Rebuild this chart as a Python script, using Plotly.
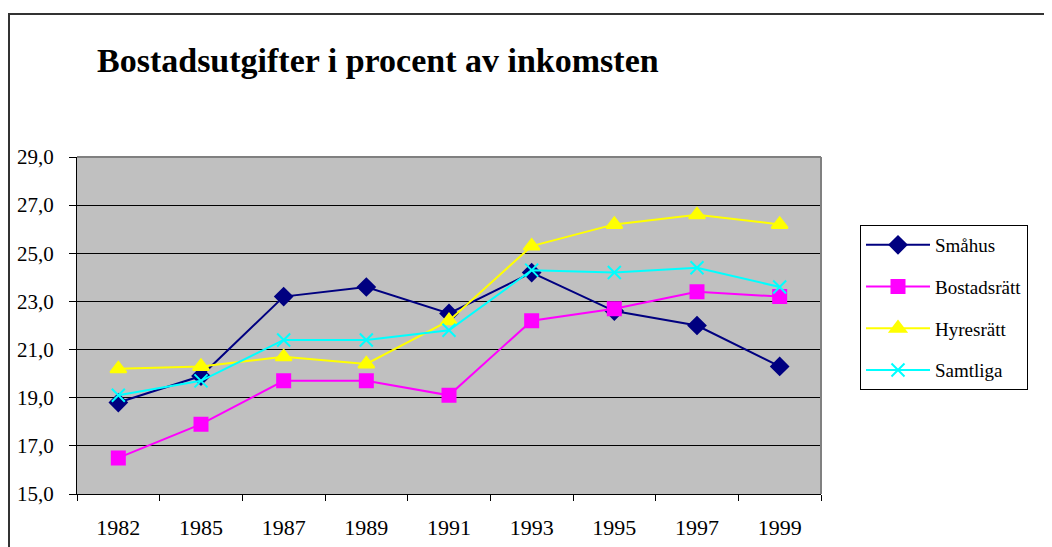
import plotly.graph_objects as go

years = ["1982", "1985", "1987", "1989", "1991", "1993", "1995", "1997", "1999"]
smahus = [18.8, 19.9, 23.2, 23.6, 22.5, 24.2, 22.6, 22.0, 20.3]
bostadsratt = [16.5, 17.9, 19.7, 19.7, 19.1, 22.2, 22.7, 23.4, 23.2]
hyresratt = [20.2, 20.3, 20.7, 20.4, 22.2, 25.3, 26.2, 26.6, 26.2]
samtliga = [19.1, 19.7, 21.4, 21.4, 21.8, 24.3, 24.2, 24.4, 23.6]

series = [
    ("Småhus", smahus, "#000080", "diamond", 13),
    ("Bostadsrätt", bostadsratt, "#FF00FF", "square", 13),
    ("Hyresrätt", hyresratt, "#FFFF00", "triangle-up", 14),
    ("Samtliga", samtliga, "#00FFFF", "x-thin", 13),
]

FONT = "Liberation Serif, Times New Roman, serif"

fig = go.Figure()
for name, vals, col, sym, size in series:
    fig.add_trace(go.Scatter(
        x=years, y=vals, name=name, mode="lines+markers", legendgroup=name,
        line=dict(color=col, width=2),
        marker=dict(symbol=sym, size=size, color=col, line=dict(color=col, width=2)),
    ))

# page body has an 8px default margin: work in window coordinates and shift
OFF = 8
W, H = 1052 - OFF, 547 - OFF
L, R, T, B = 77 - OFF, 1052 - 821, 157 - OFF, 547 - 494
pw, ph = W - L - R, H - T - B

def px_x(x):
    return (x - OFF - L) / pw

def px_y(y):
    return (H - B - (y - OFF)) / ph

fig.update_layout(
    width=W, height=H,
    margin=dict(l=L, r=R, t=T, b=B, autoexpand=False),
    paper_bgcolor="white",
    plot_bgcolor="#C0C0C0",
    separators=", ",
    font=dict(family=FONT, size=21, color="black"),
    title=dict(
        text="<b>Bostadsutgifter i procent av inkomsten</b>",
        font=dict(family=FONT, size=34, color="black"),
        x=(97 - OFF) / W, xanchor="left", xref="container",
        y=1 - (60 - OFF) / H, yanchor="middle", yref="container",
    ),
    showlegend=True,
    legend=dict(
        x=px_x(860), xanchor="left", y=px_y(225), yanchor="top",
        bordercolor="black", borderwidth=1, bgcolor="white",
        font=dict(family=FONT, size=19),
        tracegroupgap=14, itemwidth=64,
    ),
    xaxis=dict(
        type="category", range=[-0.5, 8.5],
        showline=True, linecolor="black", linewidth=1,
        ticks="outside", ticklen=6, tickcolor="black", tickson="boundaries",
        showgrid=False, zeroline=False, ticklabelstandoff=14,
        tickfont=dict(size=22),
        fixedrange=True,
    ),
    yaxis=dict(
        range=[15, 29], dtick=2, tick0=15, tickformat=".1f",
        showline=True, linecolor="black", linewidth=1,
        ticks="outside", ticklen=7, tickcolor="black",
        showgrid=True, gridcolor="black", gridwidth=1, zeroline=False,
        ticklabelstandoff=11, tickfont=dict(size=21), fixedrange=True,
    ),
)

# plot-area frame (top & right in grey)
fig.add_shape(type="line", xref="paper", yref="paper", x0=0, x1=1, y0=1, y1=1,
              line=dict(color="#808080", width=2))
fig.add_shape(type="line", xref="paper", yref="paper", x0=1, x1=1, y0=0, y1=1,
              line=dict(color="#808080", width=2))
# outer chart border
fig.add_shape(type="rect", xref="paper", yref="paper",
              x0=px_x(9), x1=px_x(1080), y0=px_y(580), y1=px_y(14),
              line=dict(color="#333333", width=2), fillcolor="rgba(0,0,0,0)")

fig.write_html("out.html")
